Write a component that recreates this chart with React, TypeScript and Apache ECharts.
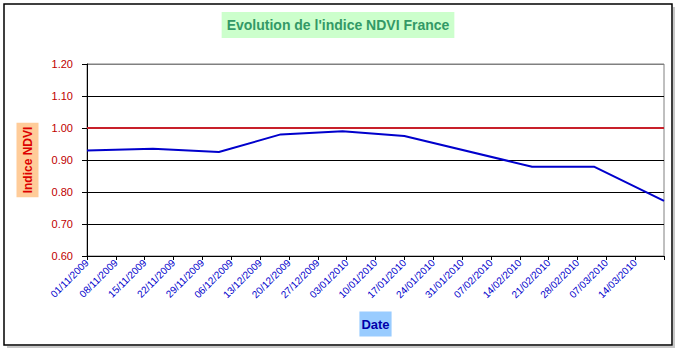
import React, { useEffect, useRef } from "react";
import * as echarts from "echarts";

// ---- Data ----
const startDate = "01/11/2009";
const ndviDates = [
  "01/11/2009",
  "17/11/2009",
  "03/12/2009",
  "18/12/2009",
  "02/01/2010",
  "17/01/2010",
  "17/02/2010",
  "04/03/2010",
  "21/03/2010",
];
const ndviValues = [0.93, 0.935, 0.925, 0.98, 0.99, 0.975, 0.879, 0.879, 0.772];

const thresholdDates = ["01/11/2009", "21/03/2010"];
const thresholdValues = [1.0, 1.0];

const tickLabels = [
  "01/11/2009", "08/11/2009", "15/11/2009", "22/11/2009", "29/11/2009",
  "06/12/2009", "13/12/2009", "20/12/2009", "27/12/2009", "03/01/2010",
  "10/01/2010", "17/01/2010", "24/01/2010", "31/01/2010", "07/02/2010",
  "14/02/2010", "21/02/2010", "28/02/2010", "07/03/2010", "14/03/2010",
];
const yTicks = ["0.60", "0.70", "0.80", "0.90", "1.00", "1.10", "1.20"];

const titleText = "Evolution de l'indice NDVI France";
const yAxisTitle = "Indice NDVI";
const xAxisTitle = "Date";

// ---- helpers ----
function toUTC(d: string): number {
  const [dd, mm, yy] = d.split("/").map(Number);
  return Date.UTC(yy, mm - 1, dd);
}
const DAY = 86400000;
function dayOffset(d: string): number {
  return Math.round((toUTC(d) - toUTC(startDate)) / DAY);
}

export default function App() {
  const ref = useRef<HTMLDivElement>(null);

  useEffect(() => {
    if (!ref.current) return;
    const chart = echarts.init(ref.current, undefined, { renderer: "svg" });
    const font = "Liberation Sans, Arial, sans-serif";
    const xMax = tickLabels.length * 7;

    chart.setOption({
      animation: false,
      backgroundColor: "#ffffff",
      grid: {
        left: 87,
        top: 64,
        width: 577,
        height: 192,
        show: true,
        borderColor: "#808080",
        borderWidth: 1,
        backgroundColor: "#ffffff",
      },
      xAxis: {
        type: "value",
        min: 0,
        max: xMax,
        interval: 7,
        axisLine: { show: true, lineStyle: { color: "#000000", width: 1 } },
        axisTick: { show: true, length: 4, lineStyle: { color: "#000000" } },
        splitLine: { show: false },
        axisLabel: {
          rotate: 45,
          margin: 5,
          color: "#0000CC",
          fontSize: 10,
          fontFamily: font,
          formatter: (v: number) => {
            const i = Math.round(v / 7);
            return tickLabels[i] ?? "";
          },
        },
      },
      yAxis: {
        type: "value",
        min: 0.6,
        max: 1.2,
        interval: 0.1,
        axisLine: { show: true, lineStyle: { color: "#000000", width: 1 } },
        axisTick: { show: true, length: 5, lineStyle: { color: "#000000" } },
        splitLine: {
          show: true,
          lineStyle: {
            color: ["#000000", "#000000", "#000000", "#000000", "#000000", "#000000", "#808080"],
            width: 1,
          },
        },
        axisLabel: {
          margin: 14,
          color: "#C00000",
          fontSize: 11,
          fontFamily: font,
          formatter: (v: number) => {
            const i = Math.round((v - 0.6) / 0.1);
            return yTicks[i] ?? "";
          },
        },
      },
      series: [
        {
          name: "Seuil",
          type: "line",
          symbol: "none",
          lineStyle: { color: "#C8202A", width: 2 },
          data: thresholdDates.map((d, i) => [dayOffset(d), thresholdValues[i]]),
          z: 2,
        },
        {
          name: "NDVI",
          type: "line",
          symbol: "none",
          lineStyle: { color: "#0000CC", width: 2 },
          data: ndviDates.map((d, i) => [dayOffset(d), ndviValues[i]]),
          z: 3,
        },
      ],
      graphic: [
        {
          type: "polyline",
          shape: { points: [[674, 7], [674, 347], [7, 347]] },
          style: { stroke: "#c8c8c8", lineWidth: 2, fill: "none" },
          z: 0,
        },
        {
          type: "rect",
          shape: { x: 4, y: 4, width: 668, height: 341 },
          style: { fill: "none", stroke: "#000000", lineWidth: 1.5 },
          z: 1,
        },
        {
          type: "text",
          x: 338,
          y: 25,
          style: {
            text: titleText,
            fill: "#339966",
            font: `bold 14px ${font}`,
            align: "center",
            verticalAlign: "middle",
            backgroundColor: "#CCFFCC",
            padding: [6, 5],
          },
          z: 5,
        },
        {
          type: "text",
          x: 27.5,
          y: 160,
          rotation: Math.PI / 2,
          style: {
            text: yAxisTitle,
            fill: "#DD0000",
            font: `bold 12px ${font}`,
            align: "center",
            verticalAlign: "middle",
            backgroundColor: "#FFCC99",
            padding: [5, 4],
          },
          z: 5,
        },
        {
          type: "text",
          x: 375.5,
          y: 324,
          style: {
            text: xAxisTitle,
            fill: "#0000AA",
            font: `bold 13px ${font}`,
            align: "center",
            verticalAlign: "middle",
            backgroundColor: "#99CCFF",
            padding: [6, 2],
          },
          z: 5,
        },
      ],
    });

    return () => chart.dispose();
  }, []);

  return (
    <div
      ref={ref}
      style={{ position: "fixed", left: 0, top: 0, width: 679, height: 352 }}
    />
  );
}
